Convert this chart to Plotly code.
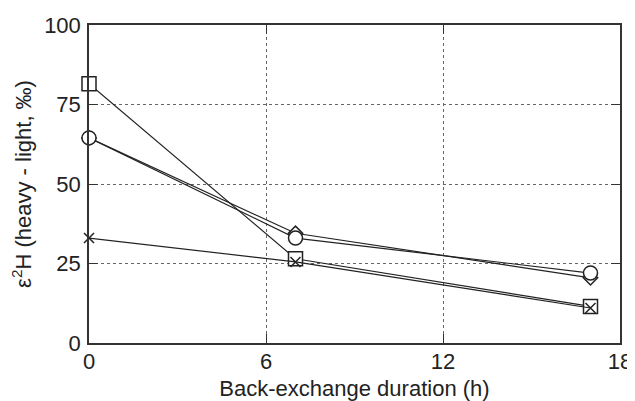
import plotly.graph_objects as go

hours = [0, 7, 17]
squares = [81.5, 26.5, 11.5]
circles = [64.5, 33, 22]
diamonds = [64.5, 34.5, 20.5]
crosses = [33, 25.5, 11]

x_ticks = [0, 6, 12, 18]
y_ticks = [0, 25, 50, 75, 100]

FONT = "Liberation Sans, Arial, sans-serif"
INK = "#222"

fig = go.Figure()
series = [
    (squares, "square", 14),
    (diamonds, "diamond", 11),
    (circles, "circle", 14),
    (crosses, "x-thin", 10),
]
for vals, sym, size in series:
    fig.add_trace(go.Scatter(
        x=hours, y=vals, mode="lines+markers",
        line=dict(color=INK, width=1.2),
        marker=dict(symbol=sym, size=size, color="white",
                    line=dict(color=INK, width=1.5)),
        cliponaxis=False, showlegend=False,
    ))

axis_common = dict(
    showline=True, linecolor="#333", linewidth=1.5, mirror="ticks",
    ticks="inside", ticklen=9, tickcolor="#333", tickwidth=1.2,
    showgrid=True, gridcolor="#666", griddash="dot", gridwidth=1,
    zeroline=False, automargin=False,
    tickfont=dict(family=FONT, size=22, color=INK),
)
fig.update_xaxes(range=[0, 18], tickvals=x_ticks, ticktext=[str(v) for v in x_ticks],
                 ticklabelstandoff=-2,
                 title=dict(text="Back-exchange duration (h)", standoff=8,
                            font=dict(family=FONT, size=22, color=INK)),
                 **axis_common)
fig.update_yaxes(range=[0, 100], tickvals=y_ticks, ticktext=[str(v) for v in y_ticks],
                 ticklabelstandoff=2,
                 title=dict(text="ε<sup>2</sup>H (heavy - light, ‰)", standoff=9,
                            font=dict(family=FONT, size=22, color=INK)),
                 **axis_common)
# the page body has an 8px margin, so the figure is made 8px smaller and shifted
fig.update_layout(
    width=627, height=393,
    margin=dict(l=81, r=15, t=17, b=58),
    paper_bgcolor="white", plot_bgcolor="white",
)
fig.write_html("out.html")
